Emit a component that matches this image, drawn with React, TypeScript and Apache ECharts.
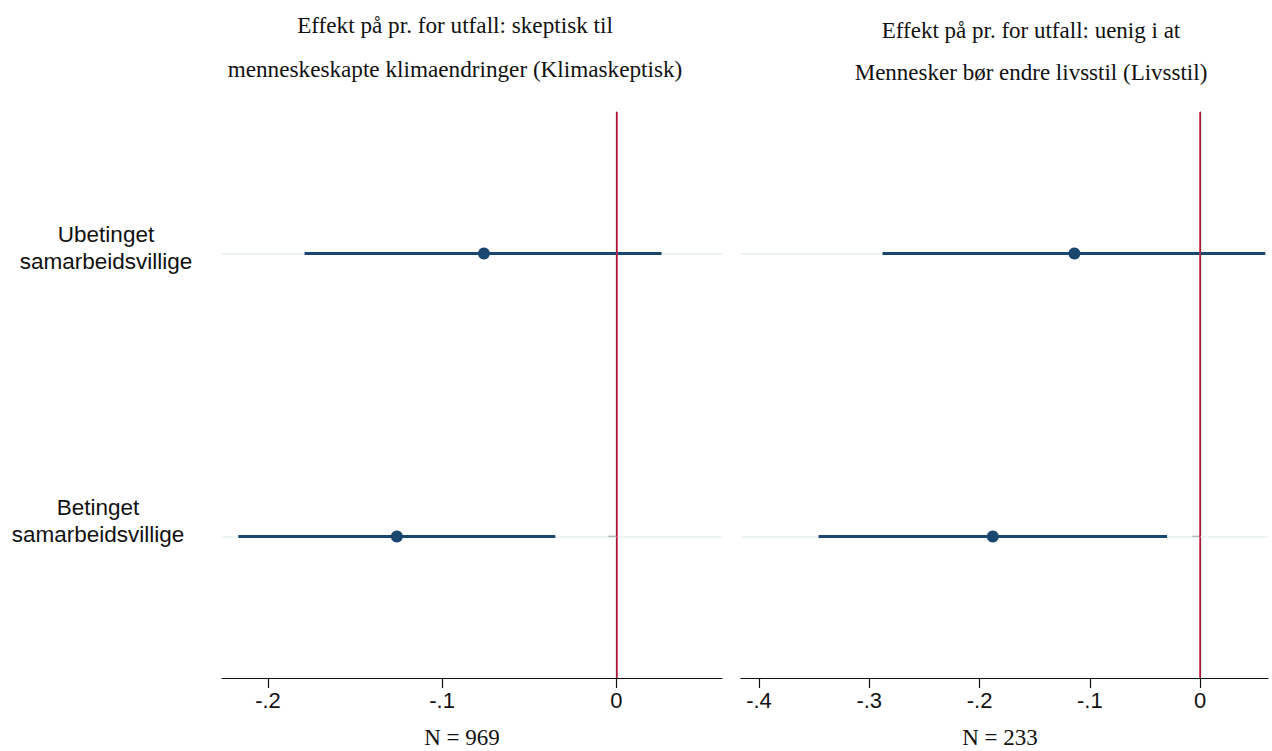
import React, { useEffect, useRef } from "react";
import * as echarts from "echarts";

// ---- data ----
const categories = ["Ubetinget\nsamarbeidsvillige", "Betinget\nsamarbeidsvillige"];

const leftEstimate = [-0.076, -0.126];
const leftLower = [-0.179, -0.217];
const leftUpper = [0.026, -0.035];

const rightEstimate = [-0.114, -0.188];
const rightLower = [-0.288, -0.346];
const rightUpper = [0.059, -0.03];

const leftTicks = [-0.2, -0.1, 0];
const rightTicks = [-0.4, -0.3, -0.2, -0.1, 0];

const leftTitle = [
  "Effekt på pr. for utfall: skeptisk til",
  "menneskeskapte klimaendringer (Klimaskeptisk)",
];
const rightTitle = [
  "Effekt på pr. for utfall: uenig i at",
  "Mennesker bør endre livsstil (Livsstil)",
];
const leftNote = "N = 969";
const rightNote = "N = 233";

// ---- styles ----
const NAVY = "#1a476f";
const RED = "#d11f48";
const GRID = "#e8eff2";
const AXIS = "#111";
const SANS = "'Liberation Sans', Arial, sans-serif";
const SERIF = "'Liberation Serif', 'Times New Roman', serif";
// per-label placement tweaks (px) relative to axis-tick position
const catLabelOffsets = [
  { dx: -116, dy: -6 },
  { dx: -124, dy: -16 },
];

const fmtTick = (v: number) =>
  v === 0 ? "0" : (v < 0 ? "-" : "") + Math.abs(v).toFixed(1).replace(/^0/, "");

export default function App() {
  const ref = useRef<HTMLDivElement>(null);

  useEffect(() => {
    if (!ref.current) return;
    const chart = echarts.init(ref.current, null, { renderer: "svg" });

    const panels = [
      { est: leftEstimate, lo: leftLower, hi: leftUpper, ticks: leftTicks, min: -0.2264, max: 0.0607 },
      { est: rightEstimate, lo: rightLower, hi: rightUpper, ticks: rightTicks, min: -0.4163, max: 0.0615 },
    ];

    const series: any[] = [];
    panels.forEach((p, i) => {
      series.push({
        type: "scatter",
        xAxisIndex: i,
        yAxisIndex: i,
        data: [],
        z: 1,
        silent: true,
        markLine: {
          z: 1,
          silent: true,
          symbol: "none",
          label: { show: false },
          lineStyle: { color: GRID, width: 1.5, type: "solid" },
          data: categories.map((c) => ({ yAxis: c })),
        },
      });
      series.push({
        type: "custom",
        xAxisIndex: i,
        yAxisIndex: i,
        z: 2,
        silent: true,
        encode: { x: [0, 1], y: 2 },
        data: p.lo.map((lo, k) => [lo, p.hi[k], k]),
        renderItem: (params: any, api: any) => {
          const c = api.value(2);
          const a = api.coord([api.value(0), c]);
          const b = api.coord([api.value(1), c]);
          return {
            type: "line",
            shape: { x1: a[0], y1: a[1], x2: b[0], y2: b[1] },
            style: { stroke: NAVY, lineWidth: 3 },
          };
        },
      });
      series.push({
        type: "scatter",
        xAxisIndex: i,
        yAxisIndex: i,
        data: [],
        z: 3,
        silent: true,
        markLine: {
          z: 3,
          silent: true,
          symbol: "none",
          label: { show: false },
          lineStyle: { color: RED, width: 1.5, type: "solid" },
          data: [{ xAxis: 0 }],
        },
      });
      series.push({
        type: "scatter",
        xAxisIndex: i,
        yAxisIndex: i,
        z: 4,
        symbol: "circle",
        symbolSize: 12,
        itemStyle: { color: NAVY, opacity: 1 },
        data: p.est.map((v, k) => [v, k]),
      });
    });

    chart.setOption({
      animation: false,
      backgroundColor: "#fff",
      grid: [
        { left: 222, right: 550, top: 112, bottom: 73 },
        { left: 741, right: 4, top: 112, bottom: 73 },
      ],
      xAxis: panels.map((p, i) => ({
        type: "value",
        gridIndex: i,
        min: p.min,
        max: p.max,
        splitLine: { show: false },
        axisLine: { show: true, lineStyle: { color: AXIS, width: 1.2 } },
        axisTick: { show: true, length: 10, customValues: p.ticks, lineStyle: { color: AXIS, width: 1.2 } },
        axisLabel: {
          show: true,
          customValues: p.ticks,
          formatter: fmtTick,
          fontFamily: SANS,
          fontSize: 22,
          color: "#111",
          margin: 11,
        },
      })),
      yAxis: [0, 1].map((i) => ({
        type: "category",
        gridIndex: i,
        inverse: true,
        data: categories,
        boundaryGap: true,
        splitLine: { show: false },
        axisLine: { show: true, lineStyle: { color: AXIS, width: 1.2 } },
        axisTick: { show: true, alignWithLabel: true, length: 8, lineStyle: { color: AXIS, width: 1.2 } },
        axisLabel: { show: false },
      })),
      series,
    });

    const els: any[] = [];
    const addText = (text: string, x: number, y: number, font: string, size: number, lh?: number) =>
      els.push({
        type: "text",
        x,
        y,
        silent: true,
        style: {
          text,
          fontFamily: font,
          fontSize: size,
          lineHeight: lh,
          fill: "#111",
          align: "center",
          verticalAlign: "middle",
        },
      });

    // category labels, placed at the y-axis tick positions
    const axisX = chart.convertToPixel({ xAxisIndex: 0 } as any, panels[0].min) as number;
    categories.forEach((c, k) => {
      const y = chart.convertToPixel({ yAxisIndex: 0 } as any, k) as number;
      const o = catLabelOffsets[k];
      addText(c, axisX + o.dx, y + o.dy, SANS, 22.5, 27);
    });

    leftTitle.forEach((t, k) => addText(t, 455, [25, 69][k], SERIF, 23.2));
    rightTitle.forEach((t, k) => addText(t, 1031, [30, 72][k], SERIF, 23));
    addText(leftNote, 462, 737, SERIF, 23, 24);
    addText(rightNote, 1000, 737, SERIF, 23, 24);

    chart.setOption({ graphic: els });

    return () => chart.dispose();
  }, []);

  return (
    <div
      ref={ref}
      style={{ position: "fixed", left: 0, top: 0, width: 1272, height: 751, background: "#fff" }}
    />
  );
}
